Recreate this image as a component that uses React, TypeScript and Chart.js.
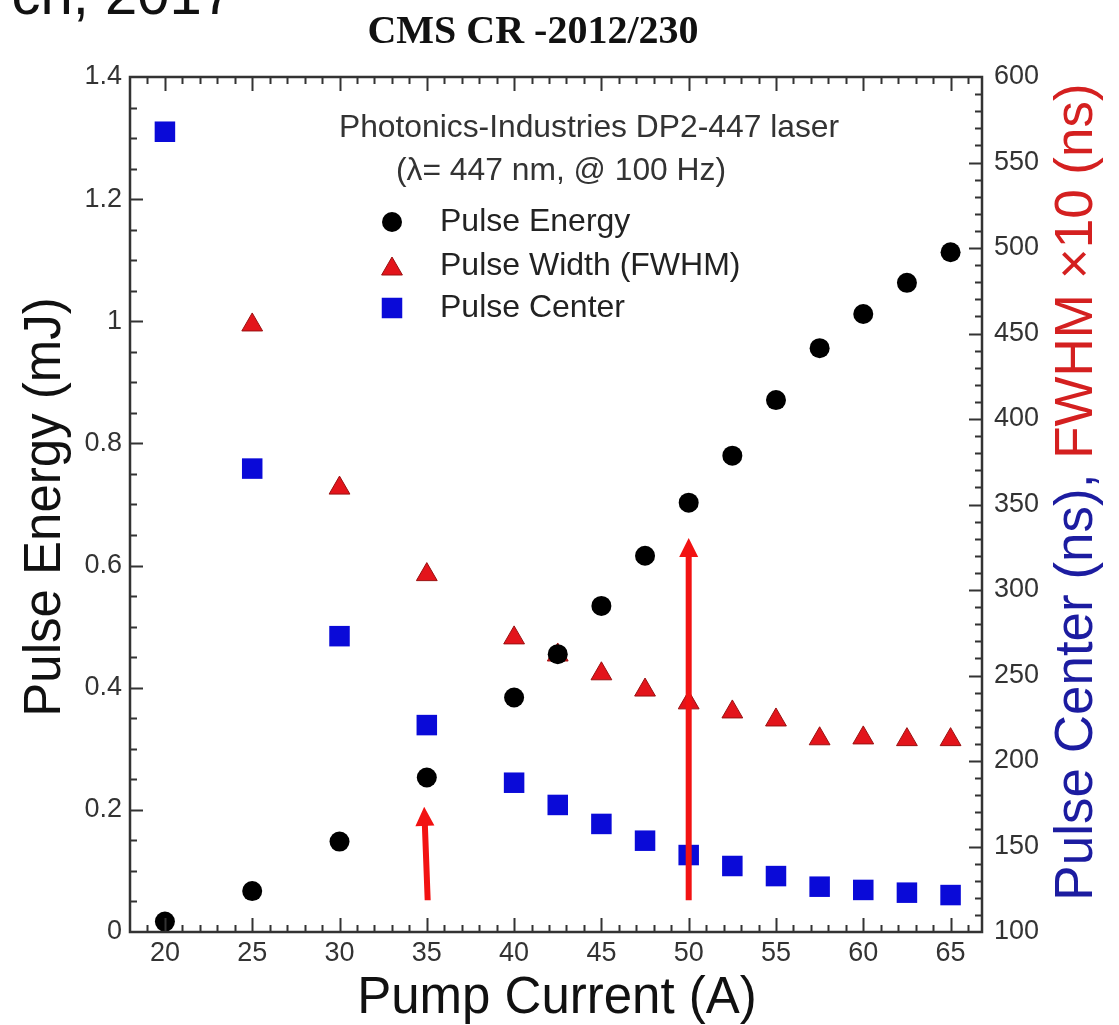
import React, { useEffect, useRef } from 'react';
import { Chart, registerables } from 'chart.js';

Chart.register(...registerables);

// ---- data ----
const pumpCurrent = [20, 25, 30, 35, 40, 42.5, 45, 47.5, 50, 52.5, 55, 57.5, 60, 62.5, 65];
const pulseEnergy = [0.017, 0.067, 0.148, 0.253, 0.384, 0.455, 0.534, 0.616, 0.703, 0.78, 0.871, 0.956, 1.012, 1.063, 1.113];
const widthCurrent = [25, 30, 35, 40, 42.5, 45, 47.5, 50, 52.5, 55, 57.5, 60, 62.5, 65];
const pulseWidthX10 = [455, 359.6, 309, 272, 262, 251, 241.5, 234, 228.7, 224, 213, 213.5, 212.5, 212.5];
const pulseCenter = [568, 371, 273, 221, 187.3, 174.3, 163.2, 153.4, 145, 138.6, 132.7, 126.5, 124.6, 123, 121.6];

const seriesNames = ['Pulse Energy', 'Pulse Width (FWHM)', 'Pulse Center'];
const xTitle = 'Pump Current (A)';
const yLeftTitle = 'Pulse Energy (mJ)';
const yRightTitleBlue = 'Pulse Center (ns), ';
const yRightTitleRed = 'FWHM \u00d710 (ns)';
const headerText = 'CMS CR -2012/230';
const cutText = 'ch, 2017';
const noteLines = ['Photonics-Industries DP2-447 laser', '(\u03bb= 447 nm, @ 100 Hz)'];

// arrows, in data units (x: pump current, y: pulse energy)
const arrowX0 = [35.05, 50];
const arrowY0 = [0.052, 0.052];
const arrowX1 = [34.85, 50];
const arrowY1 = [0.205, 0.645];

const SANS = "'Liberation Sans', Arial, Helvetica, sans-serif";
const SERIF = "'Liberation Serif', 'Times New Roman', serif";

const BLACK = '#000000';
const RED = '#e3141b';
const RED_EDGE = '#9a1010';
const BLUE = '#0a0ad8';
const AXIS = '#333333';

function drawTriangle(ctx: CanvasRenderingContext2D, x: number, y: number, r: number) {
  ctx.beginPath();
  ctx.moveTo(x, y - r);
  ctx.lineTo(x + r * Math.sin((2 * Math.PI) / 3), y - r * Math.cos((2 * Math.PI) / 3));
  ctx.lineTo(x + r * Math.sin((4 * Math.PI) / 3), y - r * Math.cos((4 * Math.PI) / 3));
  ctx.closePath();
}

const overlay = {
  id: 'overlay',
  beforeDraw(chart: any) {
    const ctx = chart.ctx;
    ctx.save();
    ctx.fillStyle = '#ffffff';
    ctx.fillRect(0, 0, chart.width, chart.height);
    ctx.restore();
  },
  afterDatasetsDraw(chart: any) {
    const ctx: CanvasRenderingContext2D = chart.ctx;
    const xs = chart.scales.x;
    const yl = chart.scales.y;
    const yr = chart.scales.y2;
    const { left, right, top, bottom } = chart.chartArea;

    // arrows
    ctx.save();
    ctx.fillStyle = '#f21212';
    for (let i = 0; i < arrowX0.length; i++) {
      const x0 = xs.getPixelForValue(arrowX0[i]);
      const y0 = yl.getPixelForValue(arrowY0[i]);
      const x1 = xs.getPixelForValue(arrowX1[i]);
      const y1 = yl.getPixelForValue(arrowY1[i]);
      const dx = x1 - x0, dy = y1 - y0;
      const len = Math.hypot(dx, dy);
      const ux = dx / len, uy = dy / len;
      const nx = -uy, ny = ux;
      const head = 19, hw = 9.5, sw = 3;
      const bx = x1 - ux * head, by = y1 - uy * head;
      ctx.beginPath();
      ctx.moveTo(x0 + nx * sw, y0 + ny * sw);
      ctx.lineTo(bx + nx * sw, by + ny * sw);
      ctx.lineTo(bx + nx * hw, by + ny * hw);
      ctx.lineTo(x1, y1);
      ctx.lineTo(bx - nx * hw, by - ny * hw);
      ctx.lineTo(bx - nx * sw, by - ny * sw);
      ctx.lineTo(x0 - nx * sw, y0 - ny * sw);
      ctx.closePath();
      ctx.fill();
    }
    ctx.restore();

    // inward ticks and frame
    ctx.save();
    ctx.strokeStyle = AXIS;
    ctx.lineWidth = 2;
    ctx.beginPath();
    for (let v = 19; v <= 66; v++) {
      const px = Math.round(xs.getPixelForValue(v)) + 0.5;
      const L = v % 5 === 0 ? 14 : 7;
      ctx.moveTo(px, bottom);
      ctx.lineTo(px, bottom - L);
      ctx.moveTo(px, top);
      ctx.lineTo(px, top + L);
    }
    for (let i = 1; i < 28; i++) {
      const py = Math.round(yl.getPixelForValue(i * 0.05)) + 0.5;
      const L = i % 4 === 0 ? 13 : 7;
      ctx.moveTo(left, py);
      ctx.lineTo(left + L, py);
    }
    for (let v = 110; v < 600; v += 10) {
      const py = Math.round(yr.getPixelForValue(v)) + 0.5;
      const L = v % 50 === 0 ? 13 : 7;
      ctx.moveTo(right, py);
      ctx.lineTo(right - L, py);
    }
    ctx.stroke();
    ctx.lineWidth = 2.5;
    ctx.strokeRect(left, top, right - left, bottom - top);
    ctx.restore();
  },
  afterDraw(chart: any) {
    const ctx: CanvasRenderingContext2D = chart.ctx;
    ctx.save();

    // cut-off header line and document id
    ctx.fillStyle = '#111';
    ctx.textBaseline = 'alphabetic';
    ctx.textAlign = 'right';
    ctx.font = `58px ${SANS}`;
    ctx.fillText(cutText, 234, 14);
    ctx.textAlign = 'center';
    ctx.font = `bold 40px ${SERIF}`;
    ctx.fillText(headerText, 533, 43);

    // note text
    ctx.fillStyle = '#333';
    ctx.font = `31.8px ${SANS}`;
    ctx.fillText(noteLines[0], 589, 137);
    ctx.fillText(noteLines[1], 561, 180);

    // legend
    const legY = [222, 266, 308];
    const mx = 392;
    ctx.fillStyle = BLACK;
    ctx.beginPath();
    ctx.arc(mx, legY[0], 10, 0, Math.PI * 2);
    ctx.fill();
    ctx.fillStyle = RED;
    ctx.strokeStyle = RED_EDGE;
    ctx.lineWidth = 1;
    drawTriangle(ctx, mx, legY[1] + 3, 12);
    ctx.fill();
    ctx.stroke();
    ctx.fillStyle = BLUE;
    ctx.fillRect(mx - 10.25, legY[2] - 10.25, 20.5, 20.5);
    ctx.fillStyle = '#222';
    ctx.textAlign = 'left';
    ctx.textBaseline = 'middle';
    ctx.font = `32px ${SANS}`;
    for (let i = 0; i < seriesNames.length; i++) ctx.fillText(seriesNames[i], 440, legY[i]);

    // axis titles
    ctx.fillStyle = '#111';
    ctx.textBaseline = 'alphabetic';
    ctx.textAlign = 'center';
    ctx.font = `51px ${SANS}`;
    ctx.fillText(xTitle, 557, 1013);

    ctx.save();
    ctx.translate(60, 507);
    ctx.rotate(-Math.PI / 2);
    ctx.fillText(yLeftTitle, 0, 0);
    ctx.restore();

    ctx.save();
    ctx.font = `53px ${SANS}`;
    const w1 = ctx.measureText(yRightTitleBlue).width;
    const w2 = ctx.measureText(yRightTitleRed).width;
    ctx.translate(1092, 492);
    ctx.rotate(-Math.PI / 2);
    ctx.textAlign = 'left';
    const start = -(w1 + w2) / 2;
    ctx.fillStyle = '#1c1ca0';
    ctx.fillText(yRightTitleBlue, start, 0);
    ctx.fillStyle = '#d42020';
    ctx.fillText(yRightTitleRed, start + w1, 0);
    ctx.restore();

    ctx.restore();
  },
};

export default function App() {
  const ref = useRef<HTMLCanvasElement | null>(null);

  useEffect(() => {
    if (!ref.current) return;
    const tickFont = { family: SANS, size: 27 };
    const chart = new Chart(ref.current, {
      type: 'scatter',
      data: {
        datasets: [
          {
            label: seriesNames[0],
            data: pumpCurrent.map((x, i) => ({ x, y: pulseEnergy[i] })),
            yAxisID: 'y',
            pointStyle: 'circle',
            pointRadius: 10,
            backgroundColor: BLACK,
            borderColor: BLACK,
            borderWidth: 0,
          },
          {
            label: seriesNames[1],
            data: widthCurrent.map((x, i) => ({ x, y: pulseWidthX10[i] })),
            yAxisID: 'y2',
            pointStyle: 'triangle',
            pointRadius: 12,
            backgroundColor: RED,
            borderColor: RED_EDGE,
            borderWidth: 1,
          },
          {
            label: seriesNames[2],
            data: pumpCurrent.map((x, i) => ({ x, y: pulseCenter[i] })),
            yAxisID: 'y2',
            pointStyle: 'rect',
            pointRadius: 14.5,
            backgroundColor: BLUE,
            borderColor: BLUE,
            borderWidth: 0,
          },
        ],
      },
      options: {
        animation: false,
        responsive: false,
        devicePixelRatio: 1,
        layout: { padding: { top: 77, left: 0, right: 0, bottom: 0 } },
        plugins: {
          legend: { display: false },
          title: { display: false },
          tooltip: { enabled: false },
        },
        events: [],
        scales: {
          x: {
            type: 'linear',
            position: 'bottom',
            min: 18,
            max: 66.8,
            grid: { display: false, drawTicks: false },
            border: { display: false },
            ticks: {
              stepSize: 5,
              includeBounds: false,
              font: tickFont,
              color: '#333',
              padding: 5,
              maxRotation: 0,
              autoSkip: false,
            },
            afterFit: (s: any) => {
              s.height = 93;
            },
          },
          y: {
            type: 'linear',
            position: 'left',
            min: 0,
            max: 1.4,
            grid: { display: false, drawTicks: false },
            border: { display: false },
            ticks: {
              stepSize: 0.2,
              font: tickFont,
              color: '#333',
              padding: 8,
              callback: (v: any) => String(Math.round(Number(v) * 10) / 10),
            },
            afterFit: (s: any) => {
              s.width = 130;
            },
          },
          y2: {
            type: 'linear',
            position: 'right',
            min: 100,
            max: 600,
            grid: { display: false, drawTicks: false },
            border: { display: false },
            ticks: {
              stepSize: 50,
              font: tickFont,
              color: '#333',
              padding: 12,
            },
            afterFit: (s: any) => {
              s.width = 137;
            },
          },
        },
      } as any,
      plugins: [overlay],
    });
    return () => chart.destroy();
  }, []);

  return (
    <div style={{ position: 'fixed', left: 0, top: 0, width: 1119, height: 1025, background: '#fff', overflow: 'hidden' }}>
      <canvas ref={ref} width={1119} height={1025} style={{ display: 'block', width: 1119, height: 1025 }} />
    </div>
  );
}
